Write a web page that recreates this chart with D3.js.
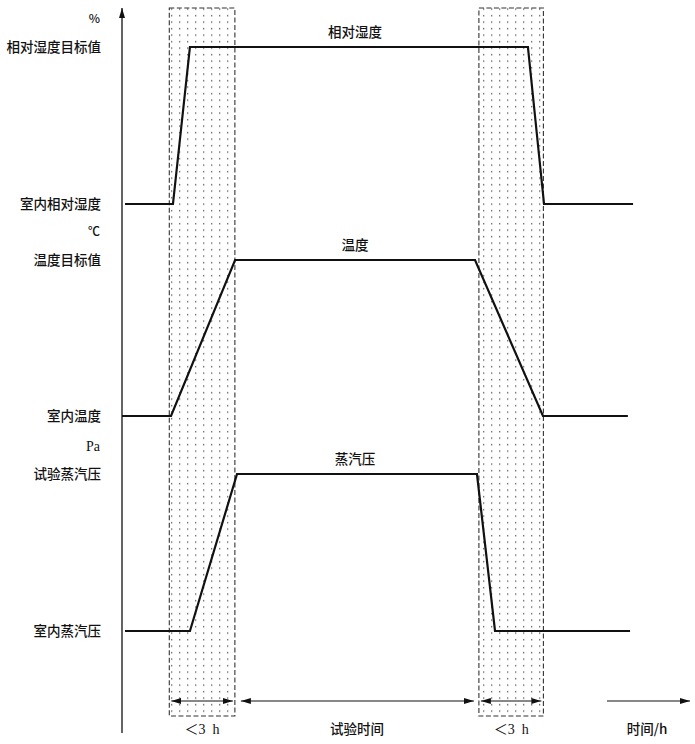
<!DOCTYPE html>
<html>
<head>
<meta charset="utf-8">
<script src="https://cdn.jsdelivr.net/npm/d3@7"></script>
<style>
  body { margin: 0; background: #fff; }
  .cjk { font-family: "Noto Sans CJK SC", sans-serif; font-size: 13.5px; font-weight: 500; fill: #111; }
  .lat { font-family: "Liberation Serif", "DejaVu Serif", serif; font-size: 14px; fill: #111; }
</style>
</head>
<body>
<svg id="chart"></svg>
<script>
var svgWidth = 695;
var svgHeight = 744;

// time in hours, axis at t = 0
var humidityT = [0.14, 2.37, 3.16, 18.88, 19.63, 23.77];
var humidityV = [0, 0, 1, 1, 0, 0];
var tempT = [0, 2.28, 5.26, 16.42, 19.58, 23.53];
var tempV = [0, 0, 1, 1, 0, 0];
var vaporT = [0.14, 3.16, 5.35, 16.51, 17.35, 23.63];
var vaporV = [0, 0, 1, 1, 0, 0];

// transition windows (< 3 h)
var windowStart = [2.2, 16.6];
var windowEnd = [5.25, 19.6];

var panels = [
  { name: "相对湿度", unit: "%", low: "室内相对湿度", high: "相对湿度目标值", t: humidityT, v: humidityV },
  { name: "温度", unit: "℃", low: "室内温度", high: "温度目标值", t: tempT, v: tempV },
  { name: "蒸汽压", unit: "Pa", low: "室内蒸汽压", high: "试验蒸汽压", t: vaporT, v: vaporV }
];
// pixel rows for each panel's low / high level
var panelRange = [[204, 47], [416, 260], [631, 474]];

var svg = d3.select("#chart")
  .attr("width", svgWidth)
  .attr("height", svgHeight);

var x = d3.scaleLinear().domain([0, 26]).range([122, 681]);

var defs = svg.append("defs");
var pat = defs.append("pattern")
  .attr("id", "dots")
  .attr("patternUnits", "userSpaceOnUse")
  .attr("width", 8)
  .attr("height", 6.5);
pat.append("rect").attr("x", 3).attr("y", 2).attr("width", 1.3).attr("height", 1.3).attr("fill", "#555");

var marker = function(id, orient) {
  defs.append("marker")
    .attr("id", id)
    .attr("viewBox", "0 0 10 6")
    .attr("refX", 10).attr("refY", 3)
    .attr("markerWidth", 10).attr("markerHeight", 6)
    .attr("markerUnits", "userSpaceOnUse")
    .attr("orient", orient)
    .append("path").attr("d", "M0,0 L10,3 L0,6 Z").attr("fill", "#111");
};
marker("arr", "auto");
marker("arrs", "auto-start-reverse");

// shaded windows
windowStart.forEach(function(s, i) {
  svg.append("rect")
    .attr("x", x(s)).attr("y", 8)
    .attr("width", x(windowEnd[i]) - x(s)).attr("height", 708)
    .attr("fill", "url(#dots)")
    .attr("stroke", "#333").attr("stroke-width", 1.1)
    .attr("stroke-dasharray", "5,2.5");
});

// y axis
svg.append("line")
  .attr("x1", x(0)).attr("x2", x(0))
  .attr("y1", 733).attr("y2", 8)
  .attr("stroke", "#111").attr("stroke-width", 1.3)
  .attr("marker-end", "url(#arr)");

// panels
panels.forEach(function(p, i) {
  var y = d3.scaleLinear().domain([0, 1]).range(panelRange[i]);
  var pts = p.t.map(function(t, j) { return [t, p.v[j]]; });
  var line = d3.line().x(d => x(d[0])).y(d => y(d[1]));

  svg.append("path")
    .attr("d", line(pts))
    .attr("fill", "none")
    .attr("stroke", "#111")
    .attr("stroke-width", 2.2)
    .attr("stroke-linejoin", "miter");

  svg.append("text").attr("class", "cjk")
    .attr("x", 101).attr("y", y(1)).attr("dy", "0.35em")
    .attr("text-anchor", "end").text(p.high);
  svg.append("text").attr("class", "cjk")
    .attr("x", 101).attr("y", y(0)).attr("dy", "0.35em")
    .attr("text-anchor", "end").text(p.low);
  svg.append("text").attr("class", i === 2 ? "lat" : "cjk")
    .attr("x", 100).attr("y", y(1) - 28).attr("dy", "0.35em")
    .attr("text-anchor", "end")
    .style("font-size", i === 2 ? "14px" : "12px")
    .text(p.unit);

  svg.append("text").attr("class", "cjk")
    .attr("x", 355).attr("y", y(1) - 15).attr("dy", "0.35em")
    .attr("text-anchor", "middle").text(p.name);
});

// dimension arrows
var dimY = 701;
windowStart.forEach(function(s, i) {
  svg.append("line")
    .attr("x1", x(s) + 2).attr("x2", x(windowEnd[i]) - 2)
    .attr("y1", dimY).attr("y2", dimY)
    .attr("stroke", "#111").attr("stroke-width", 1)
    .attr("marker-start", "url(#arrs)")
    .attr("marker-end", "url(#arr)");
  var lbl = svg.append("text").attr("class", "lat")
    .attr("x", (x(s) + x(windowEnd[i])) / 2).attr("y", 729).attr("dy", "0.35em")
    .attr("text-anchor", "middle")
    .style("white-space", "pre");
  lbl.append("tspan").style("font-family", "'Noto Sans CJK SC', sans-serif").text("＜");
  lbl.append("tspan").text("3  h");
});
svg.append("line")
  .attr("x1", x(windowEnd[0]) + 6).attr("x2", x(windowStart[1]) - 5)
  .attr("y1", dimY).attr("y2", dimY)
  .attr("stroke", "#111").attr("stroke-width", 1)
  .attr("marker-start", "url(#arrs)")
  .attr("marker-end", "url(#arr)");
svg.append("text").attr("class", "cjk")
  .attr("x", 357).attr("y", 729).attr("dy", "0.35em")
  .attr("text-anchor", "middle").text("试验时间");

// time axis arrow
svg.append("line")
  .attr("x1", 607).attr("x2", 690)
  .attr("y1", dimY).attr("y2", dimY)
  .attr("stroke", "#111").attr("stroke-width", 1)
  .attr("marker-end", "url(#arr)");
svg.append("text").attr("class", "cjk")
  .attr("x", 647).attr("y", 729).attr("dy", "0.35em")
  .attr("text-anchor", "middle").text("时间/h");
</script>
</body>
</html>
